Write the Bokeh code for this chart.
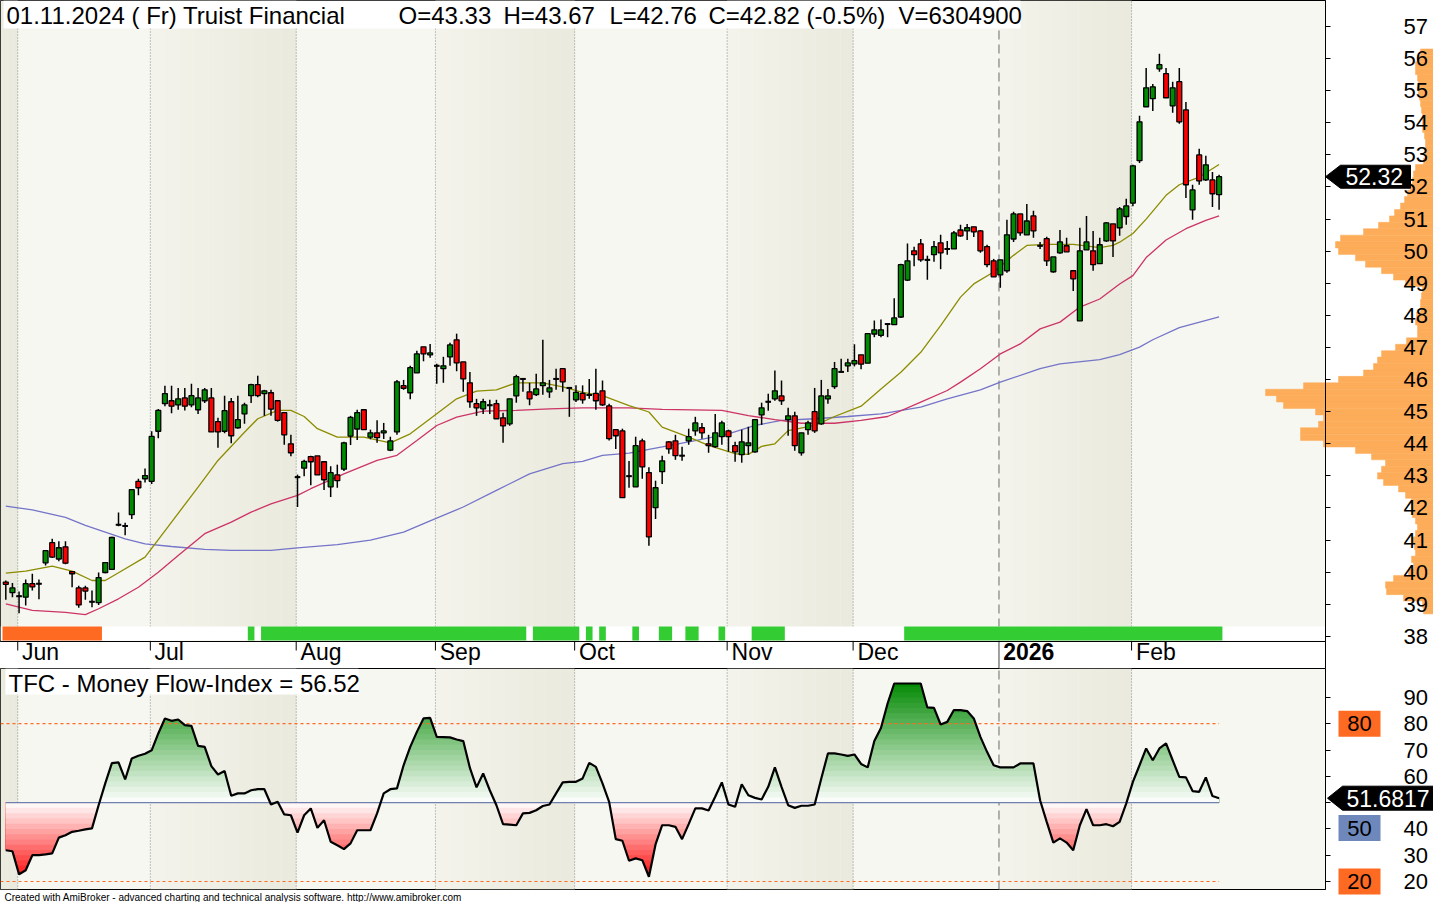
import numpy as np
from bokeh.plotting import figure
from bokeh.models import (LinearAxis, FixedTicker, CustomJSTickFormatter, Range1d,
                          Label, Title, BoxAnnotation)
from bokeh.layouts import column
from bokeh.embed import file_html
from bokeh.resources import INLINE
from bokeh.core.properties import value

# ---------------------------------------------------------------- data
bar_open = [39.69, 39.36, 39.25, 39.22, 39.64, 39.64, 40.29, 40.92, 40.41, 40.79,
            40.02, 39.51, 39.51, 39.08, 39.05, 39.99, 40.09, 41.48, 41.44, 41.79,
            42.83, 42.91, 42.83, 44.39, 45.25, 45.34, 45.21, 45.43, 45.21, 45.06,
            45.34, 45.43, 44.69, 44.39, 45.31, 44.50, 44.93, 45.50, 45.84, 45.56,
            45.59, 45.34, 44.97, 44.00, 42.96, 43.24, 43.60, 43.62, 43.44, 42.66,
            43.03, 43.21, 44.24, 44.46, 45.06, 44.21, 44.34, 44.34, 43.80, 44.37,
            45.81, 45.59, 46.21, 47.02, 46.77, 46.43, 46.34, 46.71, 47.24, 46.55,
            45.90, 45.25, 45.09, 45.20, 45.25, 44.81, 44.62, 45.49, 46.02, 45.62,
            45.53, 45.81, 45.62, 46.02, 46.34, 45.74, 45.37, 45.57, 45.52, 45.57,
            45.65, 45.18, 44.44, 44.40, 42.99, 42.66, 44.09, 43.10, 42.01, 43.13,
            44.06, 44.09, 43.63, 44.09, 44.40, 44.50, 44.00, 43.91, 44.22, 44.40,
            43.94, 43.66, 43.94, 43.75, 44.90, 45.31, 45.40, 45.49, 44.75, 44.87,
            43.72, 44.44, 45.00, 44.62, 45.40, 45.78, 46.24, 46.43, 46.49, 46.77,
            46.51, 47.42, 47.38, 47.73, 47.71, 47.95, 49.10, 50.01, 50.23, 49.73,
            49.89, 50.26, 50.07, 50.07, 50.66, 50.63, 50.76, 50.63, 50.14, 49.70,
            49.26, 49.39, 50.38, 51.16, 50.51, 51.10, 50.17, 50.39, 49.36, 49.95,
            50.17, 49.39, 47.83, 50.04, 50.01, 49.61, 50.32, 50.85, 50.73, 51.08,
            51.50, 52.82, 54.50, 54.75, 55.68, 55.53, 54.53, 55.28, 54.40, 51.29,
            53.00, 52.22, 52.22, 51.76]
bar_high = [39.74, 39.66, 39.40, 39.77, 39.95, 39.77, 40.68, 41.04, 40.96, 40.96,
            40.02, 39.58, 39.58, 39.43, 39.99, 40.30, 41.10, 41.86, 41.54, 42.57,
            42.91, 43.23, 44.39, 45.08, 45.81, 45.81, 45.74, 45.74, 45.87, 45.74,
            45.74, 45.74, 44.81, 45.50, 45.43, 45.50, 45.28, 45.87, 46.12, 45.68,
            45.68, 45.34, 44.97, 44.28, 43.04, 43.50, 43.63, 43.62, 43.44, 43.30,
            43.35, 44.06, 44.87, 45.06, 45.06, 44.44, 44.73, 44.65, 44.22, 45.99,
            45.99, 46.43, 46.90, 47.02, 47.11, 46.49, 46.71, 47.15, 47.43, 46.55,
            46.24, 45.40, 45.40, 45.37, 45.37, 44.97, 45.40, 46.15, 46.05, 45.90,
            46.18, 47.24, 45.99, 46.34, 46.34, 45.74, 45.82, 45.82, 46.02, 46.34,
            45.97, 45.25, 44.44, 44.47, 43.46, 44.22, 44.16, 43.27, 42.85, 43.63,
            44.09, 44.28, 43.91, 44.47, 44.84, 44.65, 44.28, 44.93, 44.72, 44.44,
            44.06, 44.44, 44.53, 44.75, 45.28, 45.56, 46.28, 45.97, 45.12, 45.00,
            44.34, 44.72, 45.74, 45.99, 45.71, 46.55, 46.65, 46.65, 47.10, 46.77,
            47.43, 47.84, 47.87, 47.73, 48.53, 49.61, 50.24, 50.14, 50.38, 49.86,
            50.32, 50.51, 50.32, 50.63, 50.82, 50.85, 50.76, 50.66, 50.20, 49.76,
            49.73, 50.98, 51.23, 51.16, 51.47, 51.26, 50.29, 50.45, 49.82, 50.66,
            50.42, 49.39, 50.73, 51.10, 50.63, 50.42, 50.91, 50.85, 51.38, 51.63,
            52.69, 54.22, 55.71, 55.21, 56.15, 55.71, 55.28, 55.71, 54.65, 52.07,
            53.19, 52.97, 52.47, 52.38]
bar_low = [39.14, 39.22, 38.72, 38.96, 39.43, 39.16, 40.21, 40.44, 40.34, 40.25,
           39.53, 38.89, 39.14, 38.91, 38.98, 39.97, 40.07, 41.43, 41.15, 41.66,
           42.40, 42.79, 42.75, 44.17, 45.17, 44.95, 45.06, 45.04, 45.14, 44.93,
           45.27, 44.37, 43.88, 44.33, 44.02, 44.47, 44.62, 45.27, 45.45, 44.87,
           44.87, 44.69, 43.97, 43.61, 42.03, 42.99, 42.71, 43.03, 42.56, 42.34,
           42.63, 43.15, 43.96, 44.12, 44.44, 44.14, 44.03, 44.15, 43.77, 44.28,
           45.68, 45.39, 46.21, 46.57, 46.68, 45.87, 45.90, 46.43, 46.26, 45.62,
           45.12, 44.87, 44.93, 44.93, 44.78, 44.03, 44.56, 45.28, 45.62, 45.20,
           45.49, 45.53, 45.43, 45.68, 45.62, 44.84, 45.30, 45.25, 45.40, 45.06,
           45.18, 44.10, 43.84, 42.32, 42.63, 42.66, 42.91, 40.82, 41.66, 42.75,
           43.69, 43.50, 43.47, 43.97, 44.25, 44.16, 43.72, 43.88, 43.97, 43.75,
           43.44, 43.41, 43.66, 43.72, 44.59, 45.03, 45.34, 45.21, 44.25, 43.78,
           43.63, 44.28, 44.34, 44.59, 45.25, 45.71, 46.24, 46.24, 46.41, 46.32,
           46.51, 47.32, 47.32, 47.32, 47.71, 47.92, 49.07, 49.53, 49.67, 49.11,
           49.67, 49.44, 49.89, 50.07, 50.45, 50.35, 50.44, 49.95, 49.50, 49.20,
           48.86, 49.33, 50.29, 50.48, 50.51, 50.42, 50.07, 49.54, 49.33, 49.92,
           49.98, 48.76, 47.83, 50.04, 49.39, 49.61, 50.29, 49.82, 50.48, 50.82,
           51.40, 52.75, 54.50, 54.37, 55.59, 54.78, 54.31, 53.97, 51.66, 50.98,
           52.07, 52.19, 51.38, 51.29]
bar_close = [39.62, 39.51, 39.25, 39.64, 39.54, 39.64, 40.67, 40.47, 40.76, 40.28,
             39.95, 38.98, 39.41, 39.08, 39.83, 40.30, 41.08, 41.48, 41.44, 42.57,
             42.63, 43.01, 44.23, 45.04, 45.56, 45.17, 45.40, 45.17, 45.50, 45.43,
             45.68, 44.37, 44.37, 45.03, 44.25, 44.75, 45.21, 45.84, 45.50, 45.65,
             45.08, 44.73, 44.28, 43.72, 42.96, 43.45, 43.44, 43.03, 42.88, 43.10,
             42.85, 44.03, 44.82, 44.97, 44.44, 44.34, 44.19, 44.40, 44.09, 45.93,
             45.73, 46.37, 46.80, 46.80, 46.83, 46.43, 46.43, 47.08, 46.52, 46.02,
             45.31, 45.12, 45.31, 45.20, 44.78, 44.56, 45.40, 46.09, 46.02, 45.40,
             45.71, 45.90, 45.74, 46.02, 45.93, 45.74, 45.60, 45.37, 45.52, 45.34,
             45.21, 44.16, 44.25, 42.32, 42.99, 43.94, 43.28, 41.10, 42.63, 43.47,
             43.84, 43.63, 43.63, 44.22, 44.65, 44.34, 43.94, 44.34, 44.65, 44.22,
             43.75, 44.06, 44.03, 44.75, 45.12, 45.31, 45.65, 45.34, 44.87, 43.94,
             44.34, 44.65, 44.40, 45.49, 45.49, 46.34, 46.24, 46.52, 46.59, 46.48,
             47.43, 47.55, 47.55, 47.73, 47.92, 49.58, 49.70, 49.89, 49.73, 49.73,
             50.14, 49.95, 50.07, 50.57, 50.48, 50.73, 50.60, 50.01, 49.58, 49.20,
             49.73, 50.51, 51.16, 50.57, 50.94, 50.63, 50.17, 49.70, 49.82, 50.29,
             49.98, 49.14, 50.01, 50.29, 49.58, 50.20, 50.88, 50.32, 51.32, 51.41,
             52.66, 54.03, 55.09, 55.12, 55.81, 54.78, 55.09, 54.03, 52.07, 51.91,
             52.19, 52.69, 51.79, 52.32]

month_start_idx = [2, 22, 44, 65, 86, 109, 128, 150, 170]
month_names = ["Jun", "Jul", "Aug", "Sep", "Oct", "Nov", "Dec", "2026", "Feb"]
price_ticks = list(range(38, 58))
mfi_ticks = [20, 30, 40, 50, 60, 70, 80, 90]

ma_short_idx = [0, 3, 7, 10, 13, 15, 17, 21, 25, 29, 32, 36, 38, 41, 43, 45, 47, 50, 54, 58,
                61, 64, 68, 71, 74, 77, 81, 84, 87, 90, 94, 97, 99, 103, 106, 110, 112, 114,
                116, 118, 122, 125, 129, 132, 135, 138, 141, 144, 146, 149, 152, 154, 157,
                161, 165, 167, 168, 170, 172, 175, 177, 180, 183]
ma_short_val = [39.97, 40.03, 40.19, 40.03, 39.74, 39.74, 39.98, 40.47, 41.56, 42.65, 43.48,
                44.36, 44.78, 45.04, 45.04, 44.85, 44.47, 44.21, 44.21, 44.03, 44.31, 44.78,
                45.40, 45.64, 45.68, 45.90, 45.90, 45.77, 45.60, 45.50, 45.19, 44.99, 44.52,
                44.21, 43.95, 43.69, 43.67, 43.92, 44.00, 44.41, 44.57, 44.85, 45.17, 45.71,
                46.23, 46.85, 47.68, 48.57, 48.98, 49.35, 49.87, 50.18, 50.21, 50.21, 50.11,
                50.18, 50.28, 50.55, 51.00, 51.74, 52.07, 52.31, 52.70]
ma_mid_idx = [0, 4, 9, 12, 14, 17, 20, 23, 26, 30, 34, 37, 40, 44, 46, 51, 56, 59, 62, 65,
              68, 72, 77, 82, 87, 94, 99, 108, 112, 116, 120, 125, 129, 133, 138, 142, 144,
              147, 150, 153, 156, 159, 162, 165, 168, 170, 172, 175, 178, 181, 183]
ma_mid_val = [39.01, 38.81, 38.75, 38.68, 38.86, 39.17, 39.53, 40.00, 40.52, 41.20, 41.56,
              41.87, 42.13, 42.39, 42.60, 43.06, 43.48, 43.64, 44.10, 44.57, 44.83, 45.02,
              45.04, 45.09, 45.12, 45.12, 45.07, 45.04, 44.88, 44.75, 44.64, 44.64, 44.73,
              44.85, 45.30, 45.66, 45.92, 46.34, 46.80, 47.11, 47.58, 47.79, 48.26, 48.51,
              48.98, 49.24, 49.80, 50.35, 50.70, 50.96, 51.10]
ma_long_idx = [0, 4, 9, 12, 15, 18, 21, 25, 30, 34, 40, 44, 50, 55, 60, 64, 69, 74, 79, 84,
               87, 90, 94, 99, 104, 109, 113, 117, 122, 127, 132, 138, 142, 147, 150, 156,
               159, 165, 168, 171, 173, 177, 183]
ma_long_val = [42.06, 41.94, 41.71, 41.46, 41.25, 41.04, 40.88, 40.80, 40.71, 40.68, 40.68,
               40.76, 40.86, 41.00, 41.25, 41.60, 42.03, 42.55, 43.06, 43.38, 43.45, 43.64,
               43.71, 43.90, 44.10, 44.31, 44.57, 44.73, 44.78, 44.85, 44.93, 45.14, 45.40,
               45.68, 45.92, 46.34, 46.49, 46.62, 46.78, 47.01, 47.24, 47.62, 47.95]

mfi_values = [31.9, 31.5, 22.7, 24.3, 30.0, 30.0, 30.3, 30.7, 36.7, 37.6,
              38.9, 39.3, 39.8, 40.2, 49.0, 57.3, 65.0, 65.3, 58.8, 66.8,
              67.8, 68.6, 69.9, 76.3, 82.0, 81.1, 81.6, 79.5, 79.2, 71.6,
              71.2, 63.9, 60.7, 62.0, 52.6, 53.5, 53.5, 54.7, 55.1, 55.1,
              49.3, 50.3, 45.5, 45.2, 38.6, 45.2, 47.8, 40.4, 43.3, 35.1,
              33.8, 32.3, 34.5, 39.5, 39.5, 39.5, 45.9, 53.5, 55.1, 55.4,
              64.2, 71.2, 76.9, 82.0, 82.2, 75.0, 74.9, 74.8, 74.0, 73.4,
              63.2, 55.8, 61.1, 54.7, 49.0, 41.8, 41.6, 41.4, 45.9, 46.1,
              47.1, 48.7, 49.3, 53.5, 57.7, 57.9, 57.9, 59.2, 65.1, 63.6,
              57.3, 50.3, 36.1, 35.5, 27.9, 28.8, 28.1, 21.8, 34.1, 41.4,
              41.4, 40.8, 36.1, 41.8, 47.8, 47.8, 47.0, 52.2, 57.7, 49.3,
              48.4, 57.0, 52.8, 51.8, 51.2, 56.0, 63.4, 56.0, 49.0, 48.0,
              48.8, 48.8, 49.3, 59.2, 68.7, 68.7, 68.3, 67.8, 68.3, 64.7,
              63.4, 73.4, 78.4, 87.7, 95.3, 95.3, 95.3, 95.3, 95.3, 86.2,
              86.0, 79.7, 80.7, 85.2, 85.2, 84.8, 82.0, 75.0, 69.3, 64.2,
              63.4, 63.4, 63.4, 64.9, 64.9, 64.9, 50.9, 42.7, 34.8, 36.4,
              34.8, 31.9, 41.4, 47.5, 41.4, 41.4, 41.8, 41.0, 42.7, 49.7,
              57.9, 64.2, 70.6, 66.1, 70.6, 72.5, 66.1, 59.8, 59.6, 54.4,
              54.1, 59.6, 52.5, 51.6817]

# signal ribbon (first bar, last bar)
ribbon_sell = [(0, 14)]
ribbon_buy = [(37, 37), (39, 78), (80, 86), (88, 88), (90, 90), (95, 95), (99, 100),
              (103, 104), (108, 108), (113, 117), (136, 183)]

# volume-at-price profile (bin centre, relative volume)
vap_price = [round(56.2 - 0.2 * k, 1) for k in range(88)]
vap_volume = [13, 16, 18, 18, 16, 15, 15, 14, 13, 12,
              11, 11, 11, 9, 8, 8, 8, 10, 18, 20,
              21, 23, 26, 29, 33, 39, 44, 55, 70, 93,
              98, 95, 78, 68, 52, 40, 28, 11, 12, 13,
              13, 17, 18, 16, 16, 27, 38, 52, 56, 60,
              70, 95, 130, 168, 157, 150, 118, 110, 115, 133,
              133, 110, 78, 62, 48, 52, 56, 50, 35, 28,
              22, 21, 21, 18, 16, 18, 21, 19, 18, 22,
              20, 25, 40, 48, 47, 30, 11, 10]

title_main = "01.11.2024 ( Fr) Truist Financial"
title_fields = ["O=43.33", "H=43.67", "L=42.76", "C=42.82 (-0.5%)", "V=6304900"]
mfi_title = "TFC - Money Flow-Index = 56.52"
footer = ("Created with AmiBroker - advanced charting and technical analysis software. "
          "http://www.amibroker.com")

# ---------------------------------------------------------------- layout helpers
FONT = "Liberation Sans"
REF_W = 1325.0
X_LO, X_HI = -0.80, 199.05
P_LO, P_HI = 37.84, 57.81
M_LO, M_HI = 16.96, 101.0
PXB = REF_W / (X_HI - X_LO)


def X(px):
    return X_LO + px / PXB


def Y1(py):
    return P_HI - py / 641.0 * (P_HI - P_LO)


def Y2(py):
    return M_HI - (py - 668.0) / 221.0 * (M_HI - M_LO)


n = len(bar_close)
idx = np.arange(n)
o = np.array(bar_open); h = np.array(bar_high); l = np.array(bar_low); c = np.array(bar_close)
mfi = np.array(mfi_values)

FW = 1325
xr = Range1d(X_LO, X_HI)


def make_fig(frame_h, y_lo, y_hi, bottom):
    p = figure(frame_width=FW, frame_height=frame_h, x_range=xr, y_range=Range1d(y_lo, y_hi),
               output_backend="svg", toolbar_location=None,
               x_axis_location=None, y_axis_location=None,
               min_border_left=0, min_border_top=0, min_border_right=108,
               min_border_bottom=bottom, background_fill_color="#F7F7F2",
               border_fill_color="white", outline_line_color="black", outline_line_width=1)
    for g in p.grid:
        g.visible = False
    return p


def mix(c1, c2, t):
    return "#%02x%02x%02x" % tuple(int(round(a + (b - a) * t)) for a, b in zip(c1, c2))


def bands(p, y_lo, y_hi):
    edges = [X_LO] + [m - 0.2 for m in month_start_idx] + [X_HI]
    for k in range(len(edges) - 1):
        a, b = edges[k], edges[k + 1]
        if k % 2 == 1:
            continue
        steps = 10
        lefts, rights, cols = [], [], []
        for j in range(steps):
            t = (j + 0.5) / steps
            if k == 0:
                t = 0.9 + 0.1 * t
            lefts.append(a + (b - a) * j / steps)
            rights.append(a + (b - a) * (j + 1) / steps + 0.02)
            cols.append(mix((244, 244, 236), (234, 233, 221), t))
        p.quad(left=lefts, right=rights, bottom=y_lo, top=y_hi, fill_color=cols, line_color=None)
    for m, name in zip(month_start_idx, month_names):
        if name == "2026":
            p.segment(x0=m - 0.2, y0=y_lo, x1=m - 0.2, y1=y_hi, line_color="#808080",
                      line_width=1.2, line_dash="9 5")
        else:
            p.segment(x0=m - 0.2, y0=y_lo, x1=m - 0.2, y1=y_hi, line_color="#8a8a8a",
                      line_width=1, line_dash="1 2")


def right_axis(p, ticks):
    ax = LinearAxis(ticker=FixedTicker(ticks=ticks), major_tick_out=5, major_tick_in=0,
                    minor_tick_out=0, minor_tick_in=0, major_label_standoff=73,
                    axis_line_color="black", major_tick_line_color="black",
                    major_label_text_font=FONT, major_label_text_font_size="22px",
                    major_label_text_color="black")
    ax.level = "annotation"
    p.add_layout(ax, "right")


# ---------------------------------------------------------------- price panel
p1 = make_fig(641, P_LO, P_HI, 27)
bands(p1, P_LO, P_HI)

# signal ribbon
p1.quad(left=[X_LO], right=[X_HI], bottom=[Y1(640)], top=[Y1(626)], fill_color="white",
        line_color=None)
for segs, col in ((ribbon_sell, "#FF6A22"), (ribbon_buy, "#33CC33")):
    p1.quad(left=[a - 0.5 for a, b in segs], right=[b + 0.5 for a, b in segs],
            bottom=Y1(640), top=Y1(626), fill_color=col, line_color=None)

# moving averages
p1.line(ma_long_idx, ma_long_val, line_color="#7474C8", line_width=1.3)
p1.line(ma_mid_idx, ma_mid_val, line_color="#CC3366", line_width=1.3)
p1.line(ma_short_idx, ma_short_val, line_color="#8C8C00", line_width=1.3)

# candles
p1.segment(x0=idx, y0=l, x1=idx, y1=h, line_color="black", line_width=1.5)
body_col = np.where(c >= o, "#008C00", "#FF0000")
p1.vbar(x=idx, width=0.74, top=np.maximum(o, c), bottom=np.minimum(o, c),
        fill_color=body_col, line_color="black", line_width=1.3)
doji = np.abs(o - c) < 0.03
p1.segment(x0=idx[doji] - 0.42, y0=c[doji], x1=idx[doji] + 0.42, y1=c[doji],
           line_color="black", line_width=2)

# volume at price profile (extends under the price scale)
vp = np.array(vap_price)
vv = np.array(vap_volume)
p1.quad(left=X(1433 - vv), right=X(1440), bottom=vp - 0.1, top=vp + 0.1,
        fill_color="#FDAC59", line_color="#FDAC59", line_width=0.5, level="guide")

right_axis(p1, price_ticks)

# month axis (labels); month tick marks drawn in the strip
widths = {"Jun": 37, "Jul": 29, "Aug": 41, "Sep": 41, "Oct": 36, "Nov": 41, "Dec": 41,
          "2026": 51, "Feb": 40}
label_pos = [m + (3.0 + widths[nm] / 2.0) / PXB for m, nm in zip(month_start_idx, month_names)]
axis_names = ["" if nm == "2026" else nm for nm in month_names]
bx = LinearAxis(ticker=FixedTicker(ticks=label_pos),
                formatter=CustomJSTickFormatter(args=dict(names=axis_names),
                                                code="return names[index];"),
                major_tick_out=0, major_tick_in=0, minor_tick_out=0, minor_tick_in=0,
                major_label_standoff=-3, axis_line_color="black",
                major_label_text_font=FONT, major_label_text_font_size="23px",
                major_label_text_color="black")
p1.add_layout(bx, "below")
for m, nm, lp in zip(month_start_idx, month_names, label_pos):
    if nm == "2026":
        p1.segment(x0=[m - 0.2], y0=[P_LO], x1=[m - 0.2], y1=[Y1(668)], line_color="#606060",
                   line_width=1.2, level="guide")
        p1.text(x=[lp], y=[Y1(642)], text=[nm], text_font=value(FONT), text_font_size="23px",
                text_font_style="bold", text_align="center", text_baseline="top",
                text_color="black", level="guide")
    else:
        p1.segment(x0=[m - 0.2], y0=[P_LO], x1=[m - 0.2], y1=[Y1(650)], line_color="black",
                   line_width=1, level="guide")
p1.segment(x0=[X(1325)], y0=[P_LO], x1=[X(1325)], y1=[Y1(668)], line_color="black",
           line_width=1, level="guide")

# last price marker
hh = 11.5 * (P_HI - P_LO) / 641.0
lc = c[-1]
p1.patch([X(1325), X(1340), X(1410), X(1410), X(1340)],
         [lc, lc + hh, lc + hh, lc - hh, lc - hh], fill_color="black", line_color="black",
         level="overlay")
p1.text(x=[X(1345)], y=[lc], text=["%.2f" % lc], text_color="white",
        text_font=value(FONT), text_font_size="23px", text_baseline="middle",
        text_align="left", level="overlay")

# title
p1.add_layout(BoxAnnotation(left=X(3), right=X(1020), top=Y1(0), bottom=Y1(28),
                            fill_color="white", fill_alpha=1, line_color=None))
p1.add_layout(Label(x=X(6), y=Y1(1), text=title_main, text_baseline="top",
                    text_font=FONT, text_font_size="24px", text_color="black"))
for xpx, txt in zip([398, 503, 609, 708, 898], title_fields):
    p1.add_layout(Label(x=X(xpx), y=Y1(1), text=txt, text_baseline="top",
                        text_font=FONT, text_font_size="24px", text_color="black"))

# ---------------------------------------------------------------- MFI panel
p2 = make_fig(221, M_LO, M_HI, 0)
bands(p2, M_LO, M_HI)

# gradient fill (geometry only: the straight chart line sampled finely)
xf = np.linspace(idx[0], idx[-1], (n - 1) * 8 + 1)
mf = np.interp(xf, idx, mfi)
green_top, red_bot = 96, 18
for b in range(green_top, 50, -2):
    t = (b - 1 - 50) / (green_top - 50)
    p2.varea(x=xf, y1=50, y2=np.clip(mf, 50, b), fill_color=mix((255, 255, 255), (0, 136, 0), t))
for a in range(red_bot, 50, 2):
    t = (50 - (a + 1)) / (50 - 20)
    t = min(t, 1.0)
    p2.varea(x=xf, y1=np.clip(mf, a, 50), y2=50, fill_color=mix((255, 255, 255), (255, 0, 0), t))

xa = [idx[0], idx[-1]]
p2.line([X(0), idx[-1]], [80, 80], line_color="#FF6A22", line_width=1.2, line_dash="3 3")
p2.line([X(0), idx[-1]], [20, 20], line_color="#FF6A22", line_width=1.2, line_dash="3 3")
p2.line(xa, [50, 50], line_color="#6F80AE", line_width=1.3)
p2.line(idx, mfi, line_color="black", line_width=2.2)

right_axis(p2, mfi_ticks)

# level boxes
bw = 42 / PXB
bh = 26 * (M_HI - M_LO) / 221.0
box_y = [80, Y2(827.5), 20]
p2.rect(x=[X(1359)] * 3, y=box_y, width=bw, height=bh,
        fill_color=["#FF6A22", "#6E88BC", "#FF6A22"], line_color=None, level="overlay")
p2.text(x=[X(1359)] * 3, y=box_y, text=["80", "50", "20"], text_color="black",
        text_font=value(FONT), text_font_size="22px", text_align="center",
        text_baseline="middle", level="overlay")

lm = mfi[-1]
hm = 12 * (M_HI - M_LO) / 221.0
p2.patch([X(1327), X(1342), X(1440), X(1440), X(1342)],
         [lm, lm + hm, lm + hm, lm - hm, lm - hm], fill_color="black", line_color="black",
         level="overlay")
p2.text(x=[X(1346)], y=[lm], text=["%.4f" % lm], text_color="white",
        text_font=value(FONT), text_font_size="23px", text_baseline="middle",
        text_align="left", level="overlay")

p2.add_layout(BoxAnnotation(left=X(5), right=X(358), top=Y2(668), bottom=Y2(694),
                            fill_color="white", fill_alpha=1, line_color=None))
p2.add_layout(Label(x=X(8), y=Y2(669), text=mfi_title, text_baseline="top",
                    text_font=FONT, text_font_size="24px", text_color="black"))

p2.add_layout(Title(text=footer, text_font=FONT, text_font_size="10px",
                    text_font_style="normal", align="left", standoff=0, offset=4,
                    text_color="black"), "below")

layout = column(p1, p2, spacing=0)
open("out.html", "w").write(file_html(layout, INLINE))
